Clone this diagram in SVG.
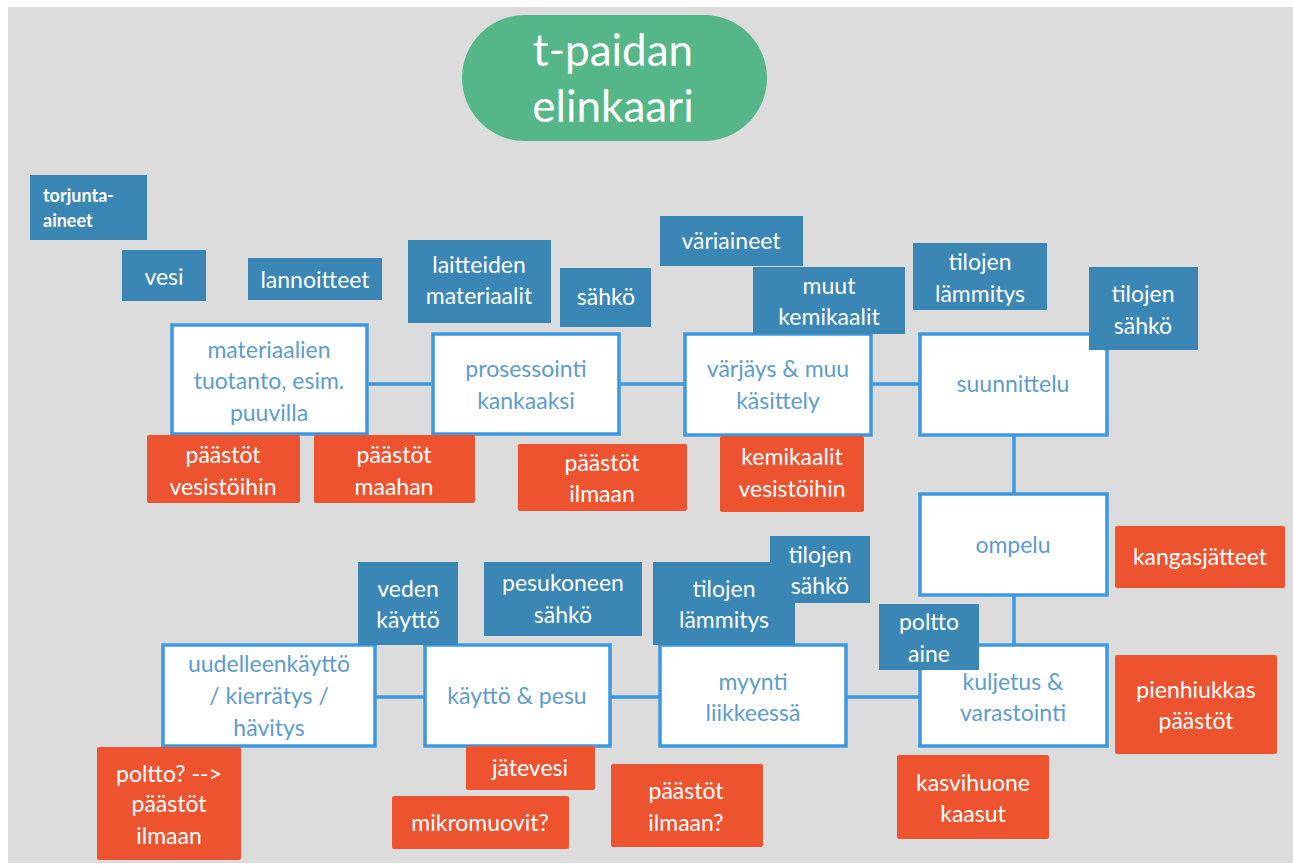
<svg xmlns="http://www.w3.org/2000/svg" width="1293" height="865" viewBox="0 0 1293 865">
<style>
text{font-family:Lato,"Open Sans","Liberation Sans",sans-serif;text-anchor:middle;dominant-baseline:central;transform:translateY(-2px)}
.in rect{fill:#3a86b5}
.in text{fill:#ffffff;font-size:23px}
.out rect{fill:#ee5330;rx:2px}
.out text{fill:#ffffff;font-size:23px}
.proc rect{fill:#ffffff;stroke:#3c98df;stroke-width:3.5}
.proc text{fill:#5d9ccd;font-size:23px}
#connectors line{stroke:#3c98df;stroke-width:3.5}
</style>
<rect x="0" y="0" width="1293" height="865" fill="#ffffff"/>
<rect x="8" y="7" width="1285" height="856" fill="#dcdcdc"/>

<g id="title">
<rect x="462" y="15" width="305" height="126" rx="63" fill="#55b787"/>
<text x="613" y="51" font-size="44" fill="#ffffff">t-paidan</text>
<text x="613" y="107" font-size="44" fill="#ffffff">elinkaari</text>
</g>

<g id="connectors">
<line x1="367" y1="384" x2="433" y2="384"/>
<line x1="619" y1="384" x2="685" y2="384"/>
<line x1="871" y1="384" x2="920" y2="384"/>
<line x1="1014" y1="435" x2="1014" y2="494"/>
<line x1="1014" y1="595" x2="1014" y2="645"/>
<line x1="375" y1="697" x2="425" y2="697"/>
<line x1="610" y1="697" x2="660" y2="697"/>
<line x1="846" y1="697" x2="920" y2="697"/>
</g>

<g id="p-materiaalien" class="proc">
<rect x="172" y="325" width="195" height="109"/>
<text x="269" y="351">materiaalien</text>
<text x="269" y="382">tuotanto, esim.</text>
<text x="269" y="414">puuvilla</text>
</g>
<g id="p-prosessointi" class="proc">
<rect x="433" y="334" width="186" height="100"/>
<text x="526" y="370">prosessointi</text>
<text x="526" y="402">kankaaksi</text>
</g>
<g id="p-varjays" class="proc">
<rect x="685" y="334" width="186" height="101"/>
<text x="778" y="370">värjäys &amp; muu</text>
<text x="778" y="402">käsittely</text>
</g>
<g id="p-suunnittelu" class="proc">
<rect x="920" y="334" width="187" height="101"/>
<text x="1013" y="385">suunnittelu</text>
</g>
<g id="p-ompelu" class="proc">
<rect x="920" y="494" width="187" height="101"/>
<text x="1013" y="546">ompelu</text>
</g>
<g id="p-kuljetus" class="proc">
<rect x="920" y="645" width="187" height="101"/>
<text x="1013" y="683">kuljetus &amp;</text>
<text x="1013" y="714">varastointi</text>
</g>
<g id="p-myynti" class="proc">
<rect x="660" y="645" width="186" height="101"/>
<text x="753" y="683">myynti</text>
<text x="753" y="714">liikkeessä</text>
</g>
<g id="p-kaytto" class="proc">
<rect x="425" y="645" width="185" height="101"/>
<text x="517" y="697">käyttö &amp; pesu</text>
</g>
<g id="p-uudelleen" class="proc">
<rect x="163" y="645" width="212" height="101"/>
<text x="269" y="665">uudelleenkäyttö</text>
<text x="269" y="697">/ kierrätys /</text>
<text x="269" y="729">hävitys</text>
</g>

<g id="i-torjunta" class="in">
<rect x="30" y="175" width="117" height="65"/>
<text x="43" y="197" style="text-anchor:start;font-size:18px;font-weight:bold">torjunta-</text>
<text x="43" y="222" style="text-anchor:start;font-size:18px;font-weight:bold">aineet</text>
</g>
<g id="i-vesi" class="in">
<rect x="122" y="250" width="84" height="51"/>
<text x="164" y="278">vesi</text>
</g>
<g id="i-lannoitteet" class="in">
<rect x="248" y="258" width="134" height="42"/>
<text x="315" y="281">lannoitteet</text>
</g>
<g id="i-laitteiden" class="in">
<rect x="408" y="240" width="143" height="83"/>
<text x="479" y="266">laitteiden</text>
<text x="479" y="297">materiaalit</text>
</g>
<g id="i-sahko" class="in">
<rect x="560" y="268" width="91" height="59"/>
<text x="606" y="298">sähkö</text>
</g>
<g id="i-variaineet" class="in">
<rect x="660" y="216" width="143" height="50"/>
<text x="731" y="242">väriaineet</text>
</g>
<g id="i-muut" class="in">
<rect x="753" y="267" width="152" height="67"/>
<text x="829" y="287">muut</text>
<text x="829" y="318">kemikaalit</text>
</g>
<g id="i-lammitys1" class="in">
<rect x="913" y="243" width="134" height="67"/>
<text x="980" y="263">tilojen</text>
<text x="980" y="295">lämmitys</text>
</g>
<g id="i-sahko2" class="in">
<rect x="1089" y="267" width="109" height="83"/>
<text x="1143" y="295">tilojen</text>
<text x="1143" y="327">sähkö</text>
</g>
<g id="i-veden" class="in">
<rect x="358" y="562" width="100" height="83"/>
<text x="408" y="590">veden</text>
<text x="408" y="621">käyttö</text>
</g>
<g id="i-pesukone" class="in">
<rect x="484" y="562" width="158" height="74"/>
<text x="563" y="584">pesukoneen</text>
<text x="563" y="616">sähkö</text>
</g>
<g id="i-lammitys2" class="in">
<rect x="653" y="562" width="142" height="83"/>
<text x="724" y="590">tilojen</text>
<text x="724" y="621">lämmitys</text>
</g>
<g id="i-sahko3" class="in">
<rect x="770" y="536" width="100" height="67"/>
<text x="820" y="556">tilojen</text>
<text x="820" y="587">sähkö</text>
</g>
<g id="i-poltto" class="in">
<rect x="879" y="604" width="100" height="66"/>
<text x="929" y="623">poltto</text>
<text x="929" y="655">aine</text>
</g>

<g id="o-vesistoihin" class="out">
<rect x="147" y="435" width="153" height="68"/>
<text x="223" y="456">päästöt</text>
<text x="223" y="488">vesistöihin</text>
</g>
<g id="o-maahan" class="out">
<rect x="314" y="435" width="161" height="68"/>
<text x="394" y="456">päästöt</text>
<text x="394" y="488">maahan</text>
</g>
<g id="o-ilmaan" class="out">
<rect x="518" y="444" width="169" height="67"/>
<text x="602" y="464">päästöt</text>
<text x="602" y="495">ilmaan</text>
</g>
<g id="o-kemikaalit" class="out">
<rect x="720" y="436" width="144" height="76"/>
<text x="792" y="458">kemikaalit</text>
<text x="792" y="490">vesistöihin</text>
</g>
<g id="o-kangas" class="out">
<rect x="1115" y="526" width="170" height="62"/>
<text x="1200" y="558">kangasjätteet</text>
</g>
<g id="o-pienhiukkas" class="out">
<rect x="1115" y="655" width="162" height="99"/>
<text x="1196" y="691">pienhiukkas</text>
<text x="1196" y="722">päästöt</text>
</g>
<g id="o-kasvihuone" class="out">
<rect x="897" y="755" width="152" height="84"/>
<text x="973" y="784">kasvihuone</text>
<text x="973" y="815">kaasut</text>
</g>
<g id="o-ilmaan2" class="out">
<rect x="611" y="764" width="152" height="83"/>
<text x="686" y="792">päästöt</text>
<text x="686" y="824">ilmaan?</text>
</g>
<g id="o-jatevesi" class="out">
<rect x="466" y="746" width="129" height="44"/>
<text x="530" y="769">jätevesi</text>
</g>
<g id="o-mikromuovit" class="out">
<rect x="392" y="796" width="177" height="53"/>
<text x="480" y="824">mikromuovit?</text>
</g>
<g id="o-poltto" class="out">
<rect x="97" y="747" width="144" height="113"/>
<text x="169" y="775">poltto? --&gt;</text>
<text x="169" y="805">päästöt</text>
<text x="169" y="837">ilmaan</text>
</g>
</svg>
